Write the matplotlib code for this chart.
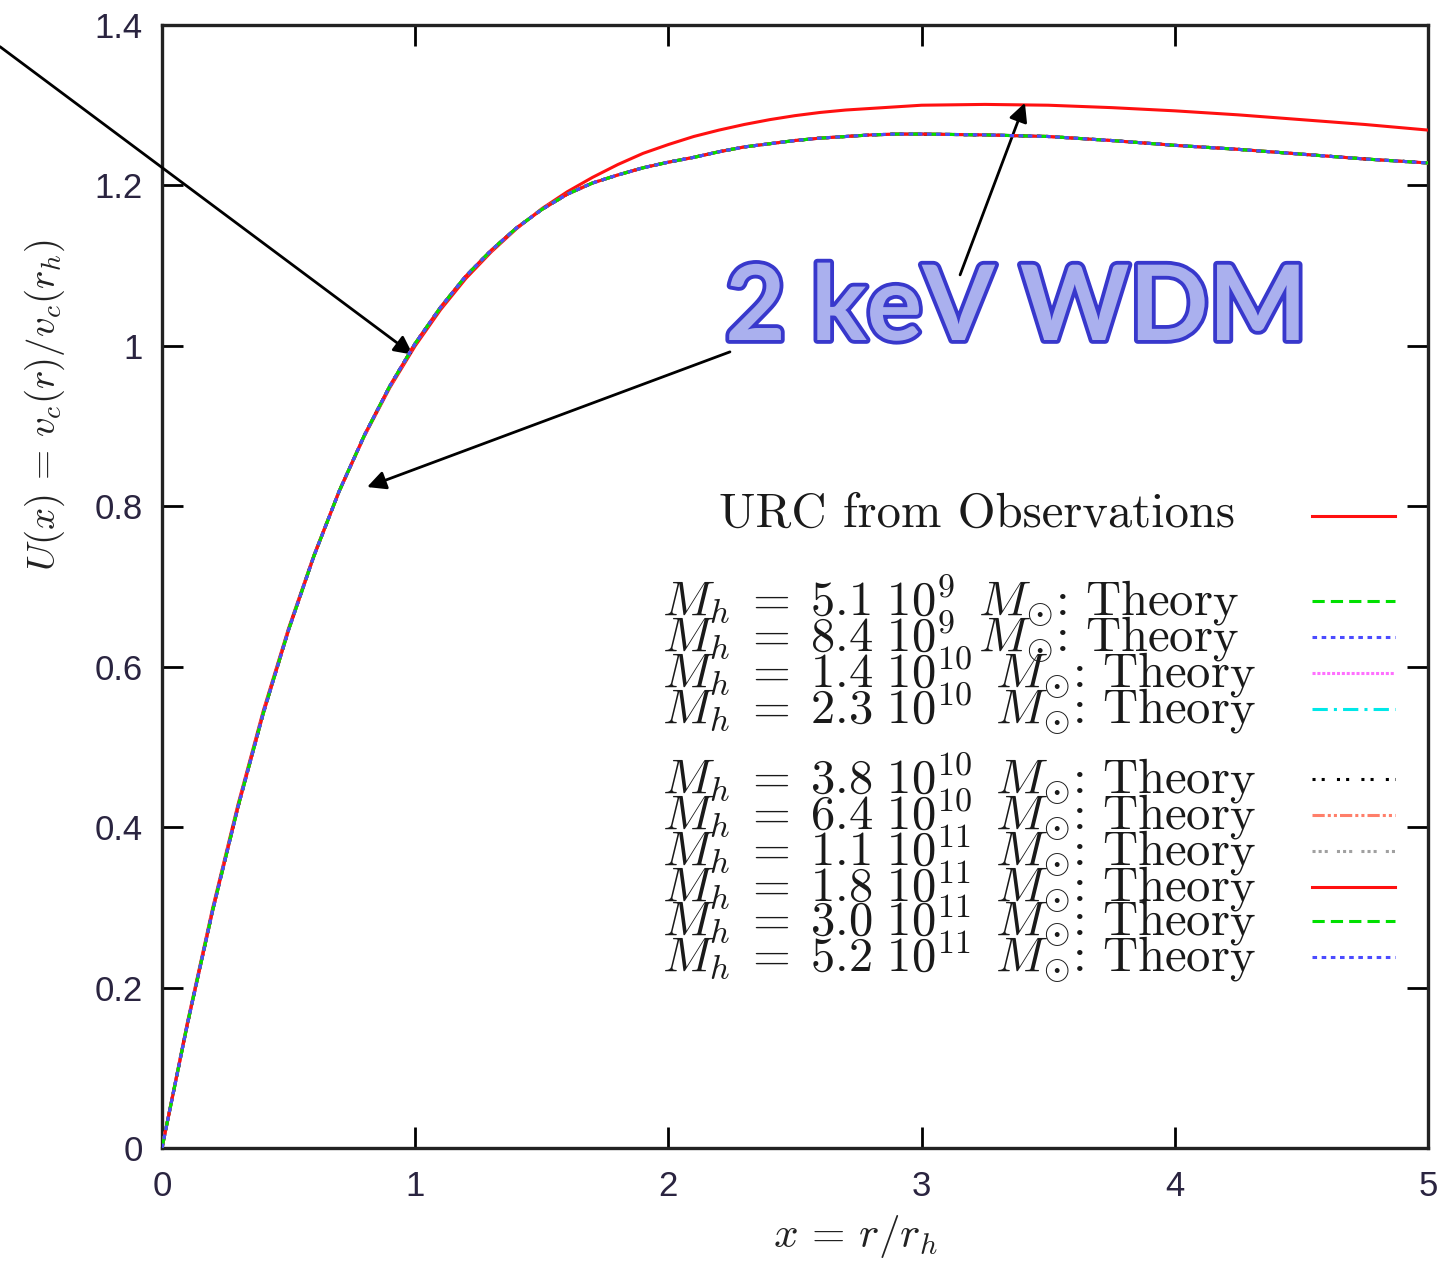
import matplotlib.pyplot as plt
import matplotlib.patheffects as pe

plt.rcParams["mathtext.fontset"] = "cm"

# normalised rotation curve U(x) = v_c(r)/v_c(r_h) against x = r/r_h
x_vals = [0.0, 0.1, 0.2, 0.3, 0.4, 0.5, 0.6, 0.7, 0.8, 0.9, 1.0,
          1.1, 1.2, 1.3, 1.4, 1.5, 1.6, 1.7, 1.8, 1.9, 2.0,
          2.1, 2.2, 2.3, 2.4, 2.5, 2.6, 2.7, 2.8, 2.9, 3.0,
          3.25, 3.5, 3.75, 4.0, 4.25, 4.5, 4.75, 5.0]

urc_obs = [0.0, 0.156, 0.299, 0.428, 0.545, 0.648, 0.739, 0.819, 0.888, 0.948, 1.000,
           1.045, 1.084, 1.117, 1.146, 1.171, 1.192, 1.210, 1.226, 1.240, 1.251,
           1.261, 1.269, 1.276, 1.282, 1.287, 1.291, 1.294, 1.296, 1.298, 1.300,
           1.301, 1.300, 1.297, 1.293, 1.288, 1.282, 1.276, 1.269]

# all halo masses give the same universal curve
theory_curve = [0.0, 0.154, 0.296, 0.425, 0.542, 0.646, 0.738, 0.819, 0.889, 0.950, 1.003,
                1.048, 1.087, 1.119, 1.147, 1.170, 1.189, 1.203, 1.213, 1.222, 1.229,
                1.235, 1.242, 1.248, 1.252, 1.256, 1.259, 1.261, 1.263, 1.264, 1.264,
                1.263, 1.261, 1.256, 1.250, 1.245, 1.239, 1.233, 1.228]

halo_masses = ["5.1\\ 10^{9}", "8.4\\ 10^{9}", "1.4\\ 10^{10}", "2.3\\ 10^{10}",
               "3.8\\ 10^{10}", "6.4\\ 10^{10}", "1.1\\ 10^{11}", "1.8\\ 10^{11}",
               "3.0\\ 10^{11}", "5.2\\ 10^{11}"]

x_ticks = [0, 1, 2, 3, 4, 5]
y_ticks = [0, 0.2, 0.4, 0.6, 0.8, 1.0, 1.2, 1.4]
y_tick_labels = ["0", "0.2", "0.4", "0.6", "0.8", "1", "1.2", "1.4"]

# gnuplot-like line types for the theory curves
theory_styles = [
    ("#00e000", (0, (4, 2))),
    ("#4b4bff", (0, (1.5, 1.5))),
    ("#ff70ff", (0, (1, 0.6))),
    ("#00e8e8", (0, (5, 2, 1, 2))),
    ("#000000", (0, (1, 2, 1, 4))),
    ("#ff7f6a", (0, (4, 1, 1, 1, 1, 1))),
    ("#a0a0a0", (0, (1, 1, 1, 1, 1, 3))),
    ("#ff1010", "-"),
    ("#00e000", (0, (4, 2))),
    ("#4b4bff", (0, (1.5, 1.5))),
]

W, H = 1444, 1261
fig = plt.figure(figsize=(W / 100, H / 100), dpi=100)
ax = fig.add_axes([162 / W, 1 - 1148 / H, (1428 - 162) / W, (1148 - 25) / H])


def fx(px):
    return px / W


def fy(py):
    return 1 - py / H


ax.plot(x_vals, urc_obs, color="#ff1010", lw=2.2, zorder=3)
for (col, ls), m in zip(theory_styles, halo_masses):
    ax.plot(x_vals, theory_curve, color=col, ls=ls, lw=2.2, zorder=4)

ax.set_xlim(0, 5)
ax.set_ylim(0, 1.4)
ax.set_xticks(x_ticks)
ax.set_xticklabels([str(t) for t in x_ticks])
ax.set_yticks(y_ticks)
ax.set_yticklabels(y_tick_labels)
ax.tick_params(direction="in", length=15, width=2, top=True, right=True,
               labelsize=25, labelcolor="#2a2440")
ax.tick_params(axis="x", pad=16)
ax.tick_params(axis="y", pad=14)
for lab in ax.get_xticklabels() + ax.get_yticklabels():
    lab.set_family("Liberation Sans")
for sp in ax.spines.values():
    sp.set_linewidth(2.4)
    sp.set_color("#222222")

fig.text(fx(45), fy(405), r"$U(x)\,=\,v_c(r)/v_c(r_h)$", rotation=90,
         ha="center", va="center", fontsize=28, color="#222222")
fig.text(fx(855), fy(1236), r"$x\,=\,r/r_h$", ha="center", va="center",
         fontsize=31, color="#222222")

# key drawn by hand, gnuplot style
text_kw = dict(fontsize=35, color="#1a1a1a", va="center", family="cmr10")
fig.text(fx(1235), fy(515), "URC from Observations", ha="right", **text_kw)
fig.add_artist(plt.Line2D([fx(1312), fx(1395)], [fy(516), fy(516)],
                          color="#ff1010", lw=2.2))
row_y = [601, 637, 673, 709, 779, 815, 851, 887, 921, 957]
for (col, ls), m, ry in zip(theory_styles, halo_masses, row_y):
    fig.text(fx(662), fy(ry), r"$M_h\;=\;" + m + r"\ \,M_{\odot}$: Theory",
             ha="left", **text_kw)
    fig.add_artist(plt.Line2D([fx(1312), fx(1395)], [fy(ry), fy(ry)],
                              color=col, ls=ls, lw=2.2))

# annotation arrows
arrow_kw = dict(arrowstyle="-|>", color="black", lw=2, mutation_scale=28,
                shrinkA=0, shrinkB=0)
ax.annotate("", xy=(0.991, 0.989), xytext=(-0.64, 1.373),
            arrowprops=arrow_kw, annotation_clip=False)
ax.annotate("", xy=(0.810, 0.824), xytext=(2.243, 0.9925),
            arrowprops=arrow_kw, annotation_clip=False)
ax.annotate("", xy=(3.408, 1.303), xytext=(3.152, 1.0885),
            arrowprops=arrow_kw, annotation_clip=False)

fig.text(fx(1016), fy(310), "2 keV WDM", ha="center", va="center",
         fontsize=75, fontweight="bold", family="Lato", color="#aab0ee",
         path_effects=[pe.Stroke(linewidth=5.5, foreground="#3838cc"), pe.Normal()])

fig.savefig("out.png", dpi=100)
